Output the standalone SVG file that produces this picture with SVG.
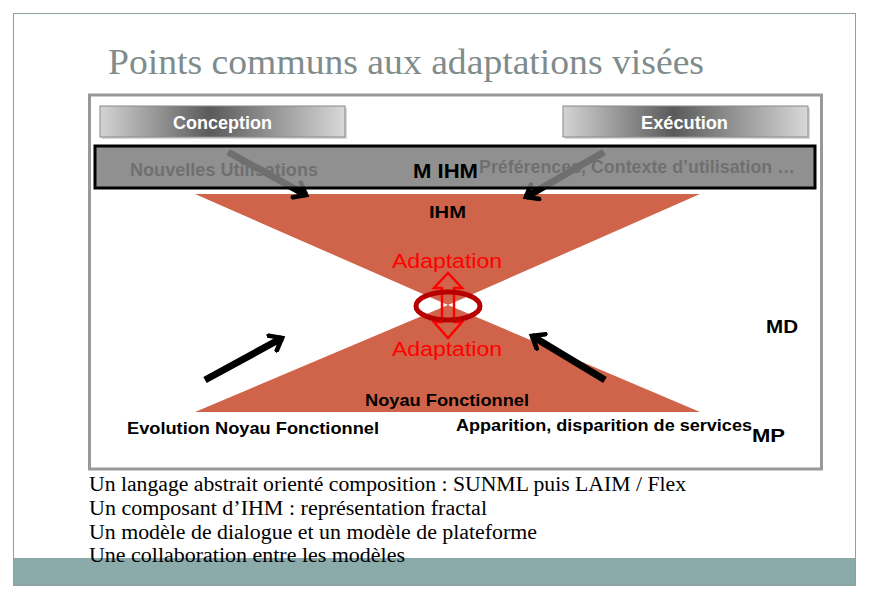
<svg xmlns="http://www.w3.org/2000/svg" width="870" height="600" viewBox="0 0 870 600">
<defs>
<linearGradient id="gbox" x1="0" y1="0" x2="1" y2="0">
<stop offset="0" stop-color="#d4d4d4"/>
<stop offset="0.45" stop-color="#5a5a5a"/>
<stop offset="1" stop-color="#d8d8d8"/>
</linearGradient>
<marker id="ah" viewBox="0 0 10 10" refX="6" refY="5" markerWidth="3" markerHeight="3" orient="auto" markerUnits="strokeWidth">
<path d="M1,1 L6,5 L1,9" fill="none" stroke="#000" stroke-width="2.2" stroke-linecap="square"/>
</marker>
</defs>
<style>
.serif{font-family:"Liberation Serif","DejaVu Serif",serif;}
.b{font-family:"Liberation Sans",Arial,sans-serif;font-weight:bold;fill:#000;}
.red{font-family:"Liberation Sans",Arial,sans-serif;fill:#ff0000;font-size:20px;}
.arr{stroke:#000;stroke-width:7;fill:none;marker-end:url(#ah);}
</style>
<rect x="0" y="0" width="870" height="600" fill="#fff"/>
<rect x="13.5" y="13.5" width="842" height="572" fill="#fff" stroke="#8fa0a0" stroke-width="1"/>
<rect x="14" y="558" width="841" height="27" fill="#8baaaa"/>
<text class="serif" x="108" y="74" font-size="36" fill="#7f8c8c" textLength="596" lengthAdjust="spacingAndGlyphs">Points communs aux adaptations visées</text>
<rect x="89.5" y="95" width="732" height="374" fill="#fff" stroke="#999" stroke-width="3"/>

<g id="hourglass">
<polygon points="195,194 700,194 448,305" fill="#d0644a"/>
<polygon points="448,305 700,412 195,412" fill="#d0644a"/>
</g>

<g id="connectors">
<line class="arr" x1="228" y1="152" x2="306" y2="195"/>
<line class="arr" x1="604" y1="152" x2="526" y2="197"/>
<line class="arr" x1="205" y1="380" x2="282" y2="338"/>
<line class="arr" x1="605" y1="380" x2="532" y2="336"/>
</g>

<g id="bar">
<text class="b" x="130" y="176" font-size="18" textLength="188" lengthAdjust="spacingAndGlyphs">Nouvelles Utilisations</text>
<text class="b" x="479" y="173" font-size="18" textLength="316" lengthAdjust="spacingAndGlyphs">Préférences, Contexte d’utilisation …</text>
<rect x="95" y="146" width="720" height="42" fill="#808080" fill-opacity="0.87" stroke="#000" stroke-width="3"/>
<text class="b" x="413" y="178" font-size="20" textLength="65" lengthAdjust="spacingAndGlyphs">M IHM</text>
</g>

<g id="conception">
<rect x="102" y="108" width="245" height="31" fill="#000" opacity="0.15"/>
<rect x="100" y="106" width="245" height="31" fill="url(#gbox)" stroke="#888" stroke-width="1"/>
<text class="b" x="173" y="129" font-size="18" style="fill:#fff" textLength="99" lengthAdjust="spacingAndGlyphs">Conception</text>
</g>
<g id="execution">
<rect x="565" y="108" width="245" height="31" fill="#000" opacity="0.15"/>
<rect x="563" y="106" width="245" height="31" fill="url(#gbox)" stroke="#888" stroke-width="1"/>
<text class="b" x="641" y="129" font-size="18" style="fill:#fff" textLength="87" lengthAdjust="spacingAndGlyphs">Exécution</text>
</g>

<g id="ihm"><text class="b" x="429" y="218" font-size="17" textLength="37" lengthAdjust="spacingAndGlyphs">IHM</text></g>
<g id="adaptation">
<text class="red" x="392" y="268" textLength="110" lengthAdjust="spacingAndGlyphs">Adaptation</text>
<text class="red" x="392" y="356" textLength="110" lengthAdjust="spacingAndGlyphs">Adaptation</text>
<polygon points="448,273 462,288 454,288 454,322 462,322 448,338 434,322 442,322 442,288 434,288" fill="none" stroke="#ff0000" stroke-width="2.5"/>
<ellipse cx="448" cy="306" rx="32" ry="14" fill="none" stroke="#b80000" stroke-width="5"/>
</g>
<g id="md"><text class="b" x="766" y="333" font-size="18" textLength="32" lengthAdjust="spacingAndGlyphs">MD</text></g>
<g id="noyau"><text class="b" x="365" y="406" font-size="17" textLength="164" lengthAdjust="spacingAndGlyphs">Noyau Fonctionnel</text></g>
<g id="evolution"><text class="b" x="127" y="434" font-size="17" textLength="252" lengthAdjust="spacingAndGlyphs">Evolution Noyau Fonctionnel</text></g>
<g id="apparition"><text class="b" x="456" y="431" font-size="17" textLength="296" lengthAdjust="spacingAndGlyphs">Apparition, disparition de services</text></g>
<g id="mp"><text class="b" x="752" y="442" font-size="19" textLength="33" lengthAdjust="spacingAndGlyphs">MP</text></g>

<g id="bullets" class="serif" font-size="20" fill="#000">
<text x="89" y="491" textLength="597" lengthAdjust="spacingAndGlyphs">Un langage abstrait orienté composition : SUNML puis LAIM / Flex</text>
<text x="89" y="515" textLength="398" lengthAdjust="spacingAndGlyphs">Un composant d’IHM : représentation fractal</text>
<text x="89" y="539" textLength="448" lengthAdjust="spacingAndGlyphs">Un modèle de dialogue et un modèle de plateforme</text>
<text x="89" y="562" textLength="316" lengthAdjust="spacingAndGlyphs">Une collaboration entre les modèles</text>
</g>
</svg>
